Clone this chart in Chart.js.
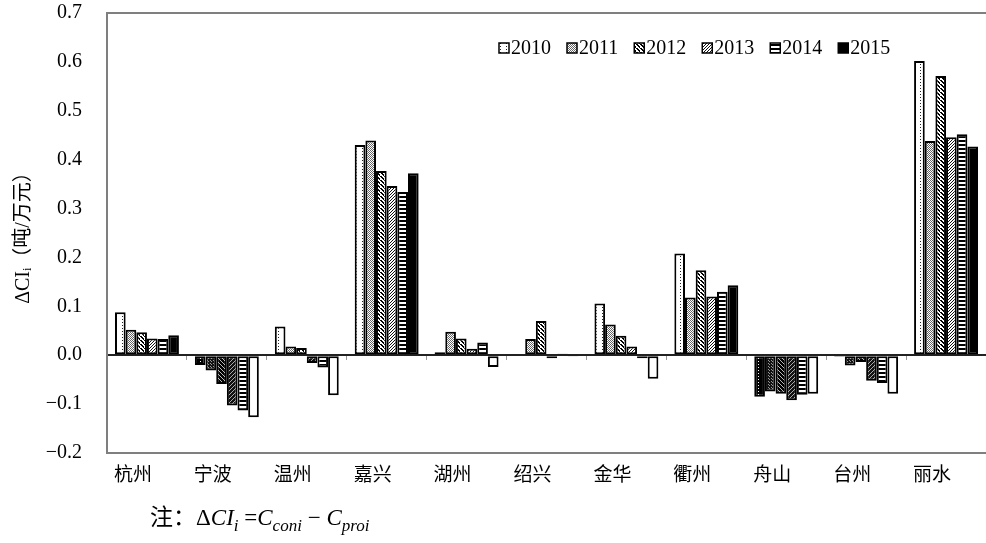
<!DOCTYPE html>
<html>
<head>
<meta charset="utf-8">
<script src="https://cdn.jsdelivr.net/npm/chart.js@4/dist/chart.umd.min.js"></script>
<style>
  html, body { margin: 0; padding: 0; background: #fff; }
  #wrap { position: relative; width: 986px; height: 543px; }
  #note {
    position: absolute; left: 150px; top: 498px;
    font-family: "Liberation Serif", "Noto Sans CJK SC", serif;
    font-size: 23px; color: #000; white-space: nowrap;
  }
  #note sub { font-size: 17px; }
</style>
</head>
<body>
<div id="wrap">
  <canvas id="chart" width="986" height="543"></canvas>
  <div id="note">注：Δ<i>CI</i><sub><i>i</i></sub> =<i>C</i><sub><i>coni</i></sub> − <i>C</i><sub><i>proi</i></sub></div>
</div>
<script>
const cities = ["杭州", "宁波", "温州", "嘉兴", "湖州", "绍兴", "金华", "衢州", "舟山", "台州", "丽水"];
const years = ["2010", "2011", "2012", "2013", "2014", "2015"];

const v2010 = [0.088, -0.020, 0.059, 0.430, 0.006, -0.002, 0.106, 0.208, -0.085, -0.003, 0.602];
const v2011 = [0.052, -0.031, 0.018, 0.439, 0.048, 0.033, 0.063, 0.118, -0.074, -0.021, 0.438];
const v2012 = [0.047, -0.059, 0.015, 0.377, 0.034, 0.070, 0.040, 0.174, -0.079, -0.014, 0.571];
const v2013 = [0.034, -0.103, -0.016, 0.346, 0.013, -0.006, 0.018, 0.120, -0.092, -0.052, 0.446];
const v2014 = [0.033, -0.113, -0.025, 0.334, 0.026, 0.003, -0.006, 0.130, -0.081, -0.057, 0.452];
const v2015 = [0.041, -0.127, -0.082, 0.372, -0.024, -0.001, -0.048, 0.143, -0.079, -0.079, 0.427];

const yTicks = [-0.2, -0.1, 0.0, 0.1, 0.2, 0.3, 0.4, 0.5, 0.6, 0.7];

// small tiles that look like the excel fill patterns
function tile(size, bg, fg, paint) {
    const c = document.createElement("canvas");
    c.width = size; c.height = size;
    const g = c.getContext("2d");
    g.fillStyle = bg;
    g.fillRect(0, 0, size, size);
    g.fillStyle = fg;
    paint(g, size);
    return g.createPattern(c, "repeat");
}

const dotsSparse = (g) => { g.fillRect(2, 1, 1, 1); g.fillRect(2, 4, 1, 1); };
const dotsDense = (g) => { g.fillRect(0, 0, 1, 1); g.fillRect(1, 1, 1, 1); };
const diagDownWide = (g, s) => { for (let i = 0; i < s; i++) g.fillRect(i, i, 2, 1); };
const diagDown = (g, s) => { for (let i = 0; i < s; i++) g.fillRect(i, i, 1, 1); };
const diagUp = (g, s) => { for (let i = 0; i < s; i++) g.fillRect(s - 1 - i, i, 1, 1); };
const stripes = (g, s) => { g.fillRect(0, 0, s, 2); };
const solid = (g, s) => { g.fillRect(0, 0, s, s); };
const none = () => {};

// positive bars: ink on white
const posFill = [
    tile(6, "#fff", "#222", dotsSparse),
    tile(2, "#fff", "#666", dotsDense),
    tile(4, "#fff", "#000", diagDownWide),
    tile(3, "#fff", "#111", diagUp),
    tile(4, "#fff", "#000", stripes),
    tile(2, "#fff", "#000", solid)
];
// negative bars: inverted, as excel does
const negFill = [
    tile(6, "#000", "#fff", dotsSparse),
    tile(3, "#111", "#999", dotsDense),
    tile(4, "#000", "#bbb", diagDown),
    tile(4, "#111", "#aaa", diagUp),
    tile(4, "#fff", "#000", stripes),
    tile(2, "#fff", "#000", none)
];

const series = [v2010, v2011, v2012, v2013, v2014, v2015];

const datasets = series.map((vals, i) => ({
    label: years[i],
    data: vals,
    backgroundColor: (ctx) => (ctx.raw < 0 ? negFill[i] : posFill[i]),
    borderColor: "#000",
    borderWidth: 2,
    borderSkipped: false,
    categoryPercentage: 0.8,
    barPercentage: 1.0
}));

const serif = "'Liberation Serif', 'Noto Sans CJK SC', serif";

// legend row in the upper right of the plot, same fills as the bars
const legendRow = {
    id: "legendRow",
    afterDraw(chart) {
        const g = chart.ctx;
        const area = chart.chartArea;
        let x = area.right - 487;
        const y = area.top + 35;
        g.save();
        g.font = "20px " + serif;
        g.textBaseline = "middle";
        g.textAlign = "left";
        chart.data.datasets.forEach((ds, i) => {
            g.fillStyle = posFill[i];
            g.fillRect(x, y - 5, 10, 10);
            g.lineWidth = 1.5;
            g.strokeStyle = "#000";
            g.strokeRect(x, y - 5, 10, 10);
            g.fillStyle = "#000";
            g.fillText(ds.label, x + 12, y + 1);
            x += 12 + g.measureText(ds.label).width + 16;
        });
        g.restore();
    }
};

new Chart(document.getElementById("chart"), {
    type: "bar",
    data: { labels: cities, datasets: datasets },
    options: {
        responsive: false,
        animation: false,
        layout: { padding: { left: 0, top: 13, right: 0, bottom: 60 } },
        plugins: {
            legend: { display: false },
            tooltip: { enabled: false }
        },
        scales: {
            x: {
                offset: true,
                grid: { display: false, drawTicks: false },
                border: { display: true, color: "#7f7f7f", width: 2 },
                ticks: {
                    color: "#000",
                    padding: 12,
                    labelOffset: -14,
                    font: { family: serif, size: 19 }
                },
                afterFit: (s) => { s.height = 30; s.paddingLeft = 0; s.paddingRight = 0; }
            },
            xz: {
                type: "category",
                position: { y: 0 },
                offset: true,
                grid: { offset: true, drawOnChartArea: false, drawTicks: true, tickLength: 5, color: "#999", lineWidth: 1 },
                border: { display: false },
                ticks: { display: false }
            },
            y: {
                min: -0.2,
                max: 0.7,
                afterBuildTicks: (s) => { s.ticks = yTicks.map((v) => ({ value: v })); },
                grid: {
                    drawTicks: false,
                    color: (c) => {
                        const v = c.tick.value;
                        if (Math.abs(v) < 1e-9) return "#222";
                        if (Math.abs(v - 0.7) < 1e-9) return "#7f7f7f";
                        return "rgba(0,0,0,0)";
                    },
                    lineWidth: 2
                },
                border: { display: true, color: "#7f7f7f", width: 2 },
                ticks: {
                    color: "#000",
                    padding: 25,
                    font: { family: serif, size: 20 },
                    callback: (v) => (v < -1e-9 ? "\u2212" + Math.abs(v).toFixed(1) : Math.abs(v).toFixed(1))
                },
                title: {
                    display: true,
                    text: "ΔCIᵢ（吨/万元）",
                    color: "#000",
                    padding: { top: 12, bottom: 0 },
                    font: { family: serif, size: 20 }
                },
                afterFit: (s) => { s.width = 107; s.paddingTop = 0; s.paddingBottom = 0; }
            }
        }
    },
    plugins: [legendRow]
});
</script>
</body>
</html>
